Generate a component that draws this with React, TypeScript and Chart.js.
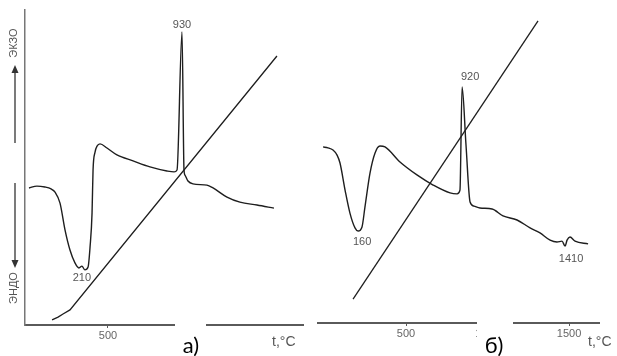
import React, { useEffect, useRef } from "react";
import { Chart, registerables } from "chart.js";

Chart.register(...registerables);

// ---- Panel а) ----
const dtaTempA = [24, 72, 120, 157, 181, 211, 241, 271, 301, 325, 343, 361, 380, 392, 404, 410, 422, 434, 452, 494, 554, 651, 753, 855, 898, 916, 946, 958, 964, 982, 1012, 1096, 1133, 1217, 1295, 1398, 1500];
const dtaSigA = [43.5, 44.1, 43.8, 43.2, 42.2, 38.7, 30.2, 23.8, 19.7, 18.1, 18.7, 17.5, 18.4, 24.8, 35.6, 49.2, 54.9, 56.8, 57.5, 56.2, 54.0, 52.1, 50.2, 48.9, 48.6, 49.2, 93.0, 49.2, 47.6, 45.7, 44.8, 44.4, 43.5, 40.6, 39.0, 38.1, 37.1];
const lineTempA = [163, 199, 229, 271, 1518];
const lineSigA = [1.6, 2.5, 3.5, 4.8, 85.4];
const ticksA = [500, 1000];
const peakTextA = ["930", "210"];
const peakTempA = [946, 361];
const peakSigA = [93.0, 17.5];

// ---- Panel б) ----
const dtaTempB = [-9, 21, 52, 77, 95, 126, 156, 187, 206, 230, 248, 279, 310, 340, 371, 463, 567, 666, 770, 813, 831, 844, 868, 893, 917, 954, 1028, 1095, 1181, 1261, 1322, 1384, 1426, 1457, 1476, 1488, 1506, 1537, 1617];
const dtaSigB = [55.9, 55.6, 54.9, 53.3, 50.8, 42.2, 34.9, 30.2, 29.2, 30.5, 36.8, 47.6, 54.0, 56.2, 55.9, 51.1, 47.0, 43.8, 41.3, 41.0, 42.2, 74.9, 56.5, 38.4, 37.1, 36.5, 36.2, 34.0, 32.7, 30.2, 28.6, 26.3, 25.7, 26.0, 24.4, 26.3, 27.3, 26.0, 25.1];
const lineTempB = [175, 1310];
const lineSigB = [7.6, 95.9];
const ticksB = [500, 1000, 1500];
const peakTextB = ["920", "160", "1410"];
const peakTempB = [844, 206, 1476];
const peakSigB = [74.9, 29.2, 24.4];

const LINE = "#1e1e1e";
const AXIS = "#5a5a5a";
const TXT = "#555";
const SANS = "'Liberation Sans', Arial, sans-serif";

function pts(xs: number[], ys: number[]) {
  return xs.map((x, i) => ({ x, y: ys[i] }));
}

function arrow(ctx: CanvasRenderingContext2D, x: number, from: number, tip: number) {
  const dir = tip < from ? -1 : 1;
  ctx.save();
  ctx.strokeStyle = "#333";
  ctx.fillStyle = "#333";
  ctx.lineWidth = 1.3;
  ctx.beginPath();
  ctx.moveTo(x, from);
  ctx.lineTo(x, tip - dir * 7);
  ctx.stroke();
  ctx.beginPath();
  ctx.moveTo(x, tip);
  ctx.lineTo(x - 3.5, tip - dir * 8);
  ctx.lineTo(x + 3.5, tip - dir * 8);
  ctx.closePath();
  ctx.fill();
  ctx.restore();
}

function makeConfig(opts: {
  dtaT: number[]; dtaS: number[]; lT: number[]; lS: number[];
  ticks: number[]; xmin: number; xmax: number;
  pad: { top: number; right: number; left: number };
  xh: number; yw: number; showY: boolean;
  labels: string[]; lt: number[]; ls: number[]; offs: number[][];
  panel: string; panelX: number; box: [number, number]; unitX: number;
  side: boolean;
}): any {
  const plugin = {
    id: "deco",
    afterDraw(chart: any) {
      const ctx: CanvasRenderingContext2D = chart.ctx;
      const xs = chart.scales.x;
      const ys = chart.scales.y;
      const ca = chart.chartArea;
      ctx.save();
      ctx.fillStyle = TXT;
      ctx.font = `11px ${SANS}`;
      ctx.textAlign = "center";
      ctx.textBaseline = "middle";
      opts.labels.forEach((t, i) => {
        const px = xs.getPixelForValue(opts.lt[i]) + opts.offs[i][0];
        const py = ys.getPixelForValue(opts.ls[i]) + opts.offs[i][1];
        ctx.fillText(t, px, py);
      });
      ctx.fillStyle = "#fff";
      ctx.fillRect(opts.box[0], ca.bottom - 1.5, opts.box[1] - opts.box[0], 40);
      ctx.fillStyle = "#000";
      ctx.font = `22px Lato, 'Open Sans', sans-serif`;
      ctx.textAlign = "center";
      ctx.textBaseline = "alphabetic";
      ctx.fillText(opts.panel, opts.panelX, 353);
      ctx.fillStyle = TXT;
      ctx.font = `14px ${SANS}`;
      ctx.textAlign = "left";
      ctx.fillText("t,°C", opts.unitX, 346);
      if (opts.side) {
        arrow(ctx, 15, 143, 65);
        arrow(ctx, 15, 183, 268);
        ctx.font = `11px ${SANS}`;
        ctx.fillStyle = TXT;
        ctx.textAlign = "center";
        ctx.textBaseline = "middle";
        ctx.save();
        ctx.translate(14, 43);
        ctx.rotate(-Math.PI / 2);
        ctx.fillText("ЭКЗО", 0, 0);
        ctx.restore();
        ctx.save();
        ctx.translate(14, 288);
        ctx.rotate(-Math.PI / 2);
        ctx.fillText("ЭНДО", 0, 0);
        ctx.restore();
      }
      ctx.restore();
    },
  };

  return {
    type: "line",
    data: {
      datasets: [
        {
          data: pts(opts.dtaT, opts.dtaS),
          borderColor: LINE,
          borderWidth: 1.4,
          pointRadius: 0,
          fill: false,
          cubicInterpolationMode: "monotone",
        },
        {
          data: pts(opts.lT, opts.lS),
          borderColor: LINE,
          borderWidth: 1.3,
          pointRadius: 0,
          fill: false,
          tension: 0,
        },
      ],
    },
    options: {
      responsive: false,
      animation: false,
      devicePixelRatio: 1,
      parsing: false,
      layout: { padding: { top: opts.pad.top, right: opts.pad.right, left: opts.pad.left, bottom: 0 } },
      plugins: { legend: { display: false }, tooltip: { enabled: false }, title: { display: false } },
      scales: {
        x: {
          type: "linear",
          min: opts.xmin,
          max: opts.xmax,
          afterFit: (s: any) => { s.height = opts.xh; },
          afterBuildTicks: (s: any) => { s.ticks = opts.ticks.map((v) => ({ value: v })); },
          grid: { display: true, drawOnChartArea: false, drawTicks: true, tickLength: 3, color: AXIS, lineWidth: 1 },
          border: { display: true, color: AXIS, width: 2 },
          ticks: {
            color: "#666",
            font: { size: 11, family: SANS },
            padding: 1,
            maxRotation: 0,
            autoSkip: false,
            callback: (v: any) => String(v),
          },
        },
        y: {
          type: "linear",
          min: 0,
          max: 100,
          display: opts.showY,
          afterFit: (s: any) => { s.width = opts.yw; },
          grid: { display: false },
          border: { display: true, color: "#777", width: 1.5 },
          ticks: { display: false },
        },
      },
    },
    plugins: [plugin],
  };
}

export default function App() {
  const refA = useRef<HTMLCanvasElement>(null);
  const refB = useRef<HTMLCanvasElement>(null);

  useEffect(() => {
    const a = new Chart(
      refA.current as HTMLCanvasElement,
      makeConfig({
        dtaT: dtaTempA, dtaS: dtaSigA, lT: lineTempA, lS: lineSigA,
        ticks: ticksA, xmin: 0, xmax: 1675,
        pad: { top: 10, right: 7, left: 0 }, xh: 31, yw: 25, showY: true,
        labels: peakTextA, lt: peakTempA, ls: peakSigA, offs: [[0, -7], [-3, 8]],
        panel: "а)", panelX: 191, box: [175, 206], unitX: 272, side: true,
      })
    );
    const b = new Chart(
      refB.current as HTMLCanvasElement,
      makeConfig({
        dtaT: dtaTempB, dtaS: dtaSigB, lT: lineTempB, lS: lineSigB,
        ticks: ticksB, xmin: -40, xmax: 1684,
        pad: { top: 8, right: 18, left: 8 }, xh: 33, yw: 0, showY: false,
        labels: peakTextB, lt: peakTempB, ls: peakSigB, offs: [[8, -10], [4, 11], [6, 13]],
        panel: "б)", panelX: 184, box: [167, 203], unitX: 278, side: false,
      })
    );
    return () => {
      a.destroy();
      b.destroy();
    };
  }, []);

  return (
    <div style={{ position: "absolute", left: 0, top: 0, width: 617, height: 356, background: "#fff", overflow: "hidden" }}>
      <canvas ref={refA} width={310} height={356} style={{ position: "absolute", left: 0, top: 0, width: 310, height: 356 }} />
      <canvas ref={refB} width={307} height={356} style={{ position: "absolute", left: 310, top: 0, width: 307, height: 356 }} />
    </div>
  );
}
